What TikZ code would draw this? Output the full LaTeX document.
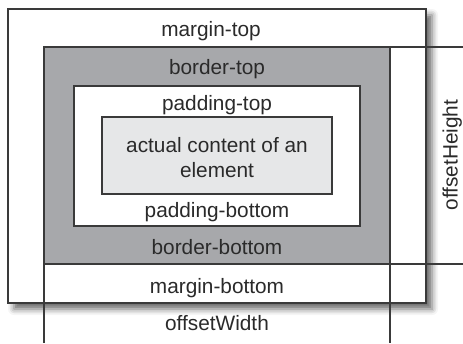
\documentclass[tikz,border=0pt]{standalone}
\usepackage{fontspec}
\setmainfont{Liberation Sans}
\usetikzlibrary{shadows.blur}
\definecolor{edge}{HTML}{3A3A3A}
\definecolor{bordergray}{HTML}{A7A8AB}
\definecolor{contentgray}{HTML}{E6E7E8}
\definecolor{txt}{HTML}{2A2A2A}
\tikzset{
  boxline/.style={draw=edge, line width=1.1pt},
  lbl/.style={anchor=base, inner sep=0pt, text=txt, font=\fontsize{20.8}{24}\selectfont},
  guide/.style={draw=edge, line width=1.1pt}
}
\begin{document}
\begin{tikzpicture}[x=1pt,y=-1pt]
\useasboundingbox (0,0) rectangle (463,343);
% outer margin box with shadow
\path[boxline, fill=white, blur shadow={shadow xshift=6pt, shadow yshift=-6pt, shadow blur radius=6pt, shadow opacity=60}] (8,9) rectangle (426,303);
\path[boxline, fill=bordergray] (44,47) rectangle (390,264);
\path[boxline, fill=white] (74,86) rectangle (360,226);
\path[boxline, fill=contentgray] (102,117) rectangle (332,194);
% guide coordinates
\coordinate (tl) at (390,47);
\coordinate (tr) at (463,47);
\coordinate (bl) at (390,264);
\coordinate (br) at (463,264);
\coordinate (rb) at (390,343);
\coordinate (lt) at (44,264);
\coordinate (lb) at (44,343);
\draw[guide] (tl) -- (tr);
\draw[guide] (bl) -- (br);
\draw[guide] (bl) -- (rb);
\draw[guide] (lt) -- (lb);
% labels
\node[lbl] (mt) at (211,36) {margin-top};
\node[lbl] (bt) at (217,74) {border-top};
\node[lbl] (pt) at (217,110) {padding-top};
\node[lbl] (c1) at (217,152) {actual content of an};
\node[lbl] (c2) at (217,177) {element};
\node[lbl] (pb) at (217,217) {padding-bottom};
\node[lbl] (bb) at (217,254) {border-bottom};
\node[lbl] (mb) at (217,293) {margin-bottom};
\node[lbl] (ow) at (217,330) {offsetWidth};
\node[lbl, rotate=90] (oh) at (457.5,155) {offsetHeight};
\end{tikzpicture}
\end{document}
